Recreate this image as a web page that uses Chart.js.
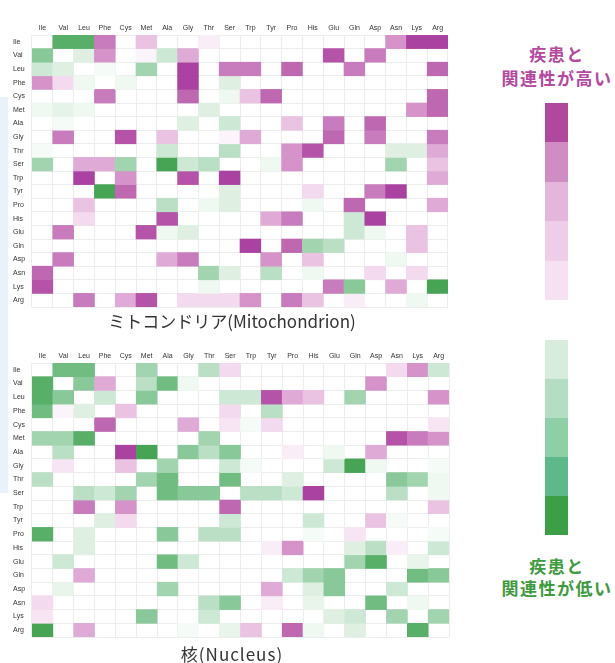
<!DOCTYPE html>
<html>
<head>
<meta charset="utf-8">
<script src="https://cdn.jsdelivr.net/npm/chart.js@4"></script>
<style>
  html, body { margin: 0; padding: 0; background: #ffffff; }
  body { width: 615px; height: 663px; position: relative; overflow: hidden;
         font-family: "Noto Sans CJK JP", "Noto Sans", sans-serif; }
  #strip { position: absolute; left: 0; top: 97px; width: 8px; height: 396px; background: #e9f1fa; }
  canvas { position: absolute; left: 0; }
  #mito { top: 0; }
  #nuc { top: 328px; }
  .caption { position: absolute; left: 32px; width: 400px; text-align: center;
             font-size: 17px; color: #333; line-height: 20px; white-space: nowrap; }
  #cap1 { top: 311px; }
  #cap2 { top: 644px; letter-spacing: 1px; }
  .legendText { position: absolute; left: 490px; width: 134px; text-align: center;
                font-size: 17px; font-weight: bold; letter-spacing: 1.5px; line-height: 24px; white-space: nowrap; }
  #hiText { top: 42px; color: #b4479f; }
  #loText { top: 555px; color: #3d9a3d; line-height: 22px; }
  .bar { position: absolute; left: 545px; width: 23px; }
  .bar div { width: 100%; }
  #hiBar { top: 103px; }
  #loBar { top: 340px; }
</style>
</head>
<body>
<div id="strip"></div>
<canvas id="mito" width="460" height="312"></canvas>
<canvas id="nuc" width="460" height="314"></canvas>
<div class="caption" id="cap1">ミトコンドリア(Mitochondrion)</div>
<div class="caption" id="cap2">核(Nucleus)</div>
<div class="legendText" id="hiText">疾患と<br>関連性が高い</div>
<div class="bar" id="hiBar"></div>
<div class="bar" id="loBar"></div>
<div class="legendText" id="loText">疾患と<br>関連性が低い</div>
<script>
// Amino acids, used for both rows and columns
const aminoAcids = ['Ile','Val','Leu','Phe','Cys','Met','Ala','Gly','Thr','Ser',
                    'Trp','Tyr','Pro','His','Glu','Gln','Asp','Asn','Lys','Arg'];

// Association scores, mitochondrion (positive = higher, negative = lower)
const mitoValues = [
  [0,-4,-4,3,0,1.5,0,0,0.5,0,0,0,0,0,0,0,0,2.5,4.5,4.5],
  [-3,0,-1,2.5,0,0.3,-1.5,2,0,0,0,0,0,0,4,0,3,0,0,0],
  [-1.5,-1,0,-0.3,0,-2.5,0,4.5,0,3,3,0,3.5,0,0,3,0,0,0,3.5],
  [2.5,1,-0.5,0,-0.5,0,0,4.5,0,-1,0,0,0,0,0,0,0,0,0,0],
  [0,0,0,3,0,0,0,3.5,0,-0.5,1.5,3.5,0,0,0,0,0,0,0,3.5],
  [-0.5,-0.8,-0.5,0,0,0,0,0,-1,0,0,0,0,0,0,0,0,0,2.5,3.5],
  [0,-0.3,0,0,0,0,0,-1,0,-1.5,0,0,1.5,0,3,0,3.5,0,0,0],
  [0,3,0,0,4,0,1.5,0,0,0.3,2,0,0,0,3.5,0,3,0,0,3],
  [-0.3,0,0,0,0,0,-1.5,0,0,-2,0,0,2.5,4,0,0,0,-1,-1,2],
  [-2.5,0,2,2,-2.5,0,-4.5,-1.5,-2,0,0,-0.5,2.5,0,0,0,0,-2.5,0,1.5],
  [0,0,4.5,0,2.5,0,0,4,0,4.5,0,0,0,0,0,0,0,0,0,2],
  [0,0,0,-4.5,3.5,0,0,0,0,-1,0,0,0,1,0,0,3,4.5,0,0],
  [0,0,1.5,0,0,0,-2,0,-0.5,-1,0,0,0,-0.5,0,3.5,0,0,0,2],
  [0,0,1,0,0,0,4,0,0,0,0,2,3,0,0,-1.5,4.5,0,0,0],
  [0,3,0,0,0,4,-0.5,-1,0,0,0,0,0,0,0,-1.5,-0.5,0,1.5,0],
  [0,0,0,0,0,0,0,0,0,0,4.5,0,3.5,-2.5,-2,0,0,0,1.5,0],
  [0,3,0,0,0,0,2,3,0,0,0,2.5,0,1.5,0,0,0,-0.5,0,0],
  [3.5,0,0,0,0,0,0,0,-2.5,-1,0,-2,0,-0.5,0,0,1,0,1,0],
  [4,0,0,0,0,0,0,0,-0.5,0,0,0,0,0,3,-3,0,2,0,-4.5],
  [0,0,3,0,2,4,0,1,1,1,2.5,0,3,1.5,0,0.5,0,0,-0.5,0]
];

// Association scores, nucleus
const nucleusValues = [
  [0,-3.5,-3.5,0,0,-2.5,0,0,-2,1,0,0,0,0,0,0,0,1,2.5,-1.5],
  [-4,0,-3,2,0,-2,-3.5,-0.5,0,0,0,0,0,0,0,0,2.5,0,0,0],
  [-4,-3,0,-1.5,0,-3,0,0,0,-1.5,-1.5,4,2,1.5,0,-2.5,0,0,0,2.5],
  [-3.5,0.3,-1,0,1.5,0,0,0,0,1,0,-2,0,0,0,0,0,0,0,0],
  [0,0,0,3.5,0,0,0,2,0,0.7,-0.3,1,0,0,0,0,0,0,0,0.7],
  [-2.5,-2.5,-4,0,0,0,0,0,-2.5,0,0,0,0,0,0,0,0,4,3,2.5],
  [0,-2,0,0,4.5,-4.5,0,-3,-2,-3,0,0,0.5,0,-0.5,0,2,0,0,0],
  [0,0.7,0,0,1.5,0,-2.5,0,0,-1.5,-0.3,0,0,0,-1.5,-4.5,-0.5,0,0,-0.3],
  [-2,0,0,0,0,-2.5,-3.5,0,0,-3.5,0,0,-1,0,0,0,0,-3,-2.5,-0.5],
  [0,0,-2,-1.5,-2.5,0,-3.5,-3,-3,0,-2,-2,-1.5,4.5,0,0,0,-2,0,-0.5],
  [0,0,3,0,2.5,0,0,0,0,3.5,0,0,0,0,0,0,0,0,0,1.5],
  [0,0,0,-1,1,0,0,0,0,-1.5,0,0,0,-1.5,0,0,1.5,-0.3,0,0],
  [-4,0,-1,0,0,0,-3,0,-2,-2,0,0,0,-0.3,0,0.7,0,0,0,-0.3],
  [0,0,-1,0,0,0,0,0,0,0,0,0.5,2.5,0,0,-1,-2,0.5,0,-1.5],
  [0,-1.5,0,0,0,0,-3.5,-1.5,0,0,0,0,0,0,0,-2.5,-4,0,-0.7,0],
  [0,0,2,0,0,0,0,0,0,0,0,0,-1.5,-2.5,-3,0,0,0,-3.5,-3],
  [0,-0.7,0,0,0,0,-2.5,0,0,0,0,2,0,-1,-3,0,0,-1.5,0,0],
  [1,0,0,0,0,0,0,0,-2,-3,0,0.5,0,-0.7,0,0,-3.5,0,-0.5,0],
  [0.7,0,0,0,0,-3,0,0,-1.5,0,0,0,0,0,-1,-1.5,0,-2.5,0,-2.5],
  [-4.5,0,2,0,0,0,0,-0.3,0,-0.7,1.5,0,3.5,-0.5,0,-1,0,0,-4,0]
];

// Colour ramps from 0 to 5 in each direction
const purpleRamp = ['#ffffff','#f3daee','#e0aad6','#c97cbd','#b453a7','#a0319a'];
const greenRamp  = ['#ffffff','#dff0e3','#badfc4','#89c899','#58af68','#35983f'];

// Legend swatches (top to bottom)
const highSwatches = ['#b0489f','#d08dc4','#e4b6db','#eecde8','#f5e1f2'];
const lowSwatches  = ['#d7ecdd','#b4dec3','#8fcfa7','#5db98c','#3a9f45'];

function hexToRgb(h) {
  const n = parseInt(h.slice(1), 16);
  return [(n >> 16) & 255, (n >> 8) & 255, n & 255];
}
function cellColor(v) {
  if (v === 0) return 'rgba(0,0,0,0)';
  const ramp = v > 0 ? purpleRamp : greenRamp;
  const a = Math.min(Math.abs(v), 5);
  const i = Math.min(Math.floor(a), 4);
  const t = a - i;
  const c0 = hexToRgb(ramp[i]), c1 = hexToRgb(ramp[i + 1]);
  const c = c0.map((x, k) => Math.round(x + (c1[k] - x) * t));
  return `rgb(${c[0]},${c[1]},${c[2]})`;
}

const tickFont = { size: 7, family: 'Liberation Sans, Arial, sans-serif' };

function heatmap(canvasId, values, pad) {
  const datasets = values.map((row, r) => ({
    data: row.map(() => [r, r + 1]),
    backgroundColor: row.map(cellColor),
    borderWidth: 0,
    grouped: false,
    barPercentage: 1,
    categoryPercentage: 1
  }));
  return new Chart(document.getElementById(canvasId), {
    type: 'bar',
    data: { labels: aminoAcids, datasets },
    options: {
      responsive: false,
      animation: false,
      events: [],
      layout: { padding: pad },
      plugins: { legend: { display: false }, tooltip: { enabled: false } },
      scales: {
        x: {
          position: 'top',
          grid: { color: '#ededed', drawTicks: false },
          border: { display: false },
          ticks: { font: tickFont, color: '#333', padding: 3, maxRotation: 0, autoSkip: false },
          afterFit(s) { s.height = 35; }
        },
        y: {
          min: 0, max: 20, reverse: true,
          grid: { display: false },
          border: { display: false },
          afterBuildTicks(s) { s.ticks = aminoAcids.map((_, i) => ({ value: i + 0.5 })); },
          ticks: {
            font: tickFont, color: '#333', crossAlign: 'far', autoSkip: false, padding: 0,
            callback: (v, i) => aminoAcids[i]
          },
          afterFit(s) { s.width = 19; }
        },
        rowGrid: {
          axis: 'y', position: 'right',
          min: 0, max: 20, reverse: true,
          ticks: { display: false, stepSize: 1 },
          grid: { color: '#ededed', drawTicks: false },
          border: { display: false },
          afterFit(s) { s.width = 0; }
        }
      }
    }
  });
}

heatmap('mito', mitoValues, { left: 13, right: 12, top: 0, bottom: 5 });
heatmap('nuc', nucleusValues, { left: 13, right: 11, top: 0, bottom: 5 });

function buildBar(id, colors, h) {
  const el = document.getElementById(id);
  colors.forEach(c => {
    const d = document.createElement('div');
    d.style.height = h + 'px';
    d.style.background = c;
    el.appendChild(d);
  });
}
buildBar('hiBar', highSwatches, 39.4);
buildBar('loBar', lowSwatches, 39);
</script>
</body>
</html>
